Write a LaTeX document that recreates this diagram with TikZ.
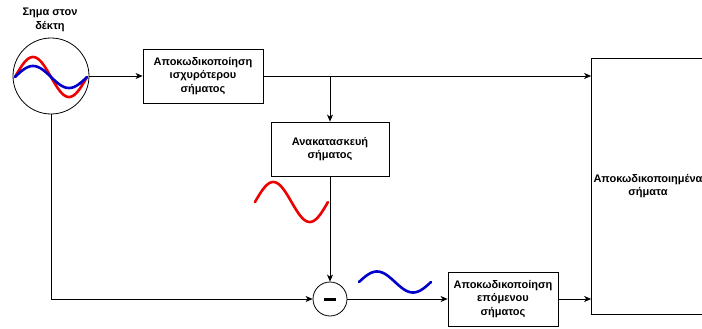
\documentclass[tikz,border=0pt]{standalone}
\usepackage{fontspec}
\setmainfont{Liberation Sans}
\usetikzlibrary{arrows.meta}
\definecolor{sigred}{HTML}{EE0000}
\definecolor{sigblue}{HTML}{0000CC}
\tikzset{
  block/.style={draw, line width=0.8pt, align=center, inner sep=2pt,
    font=\bfseries\fontsize{11}{13.5}\selectfont},
  ring/.style={draw, circle, line width=0.8pt, inner sep=0pt},
  link/.style={line width=0.8pt, -{Stealth[length=7pt,width=6pt,inset=2pt]}},
  wave/.style={line width=2.6pt, line cap=round},
  label/.style={align=center, font=\bfseries\fontsize{11}{13.5}\selectfont}
}
\begin{document}
\begin{tikzpicture}[x=1pt,y=-1pt]
\clip (0,0) rectangle (702,329);
\fill[white] (0,0) rectangle (702,329);

% received signal
\node[ring, minimum size=76pt] (src) at (51,76) {};
\node[label] (title) at (50,20) {Σημα στον\\δέκτη};
\draw[wave, sigred] plot[domain=0:1, samples=60, smooth]
  ({15+72*\x}, {77-20*sin(360*\x)});
\draw[wave, sigblue] plot[domain=0:1, samples=60, smooth]
  ({15+72*\x}, {77-11*sin(360*\x)});

% processing blocks
\node[block, minimum width=120pt, minimum height=54pt] (dec1) at (203,76)
  {Αποκωδικοποίηση\\ισχυρότερου\\σήματος};
\node[block, minimum width=118pt, minimum height=54pt] (rec) at (330,149)
  {Ανακατασκευή\\σήματος};
\node[ring, minimum size=34pt] (sub) at (330,299) {};
\draw[line width=3pt] ([xshift=-6pt]sub.center) -- ([xshift=6pt]sub.center);
\node[block, minimum width=110pt, minimum height=54pt] (dec2) at (503,299)
  {Αποκωδικοποίηση\\επόμενου\\σήματος};
\node[block, minimum width=112pt, minimum height=256pt] (out) at (648,186)
  {Αποκωδικοποιημένα\\σήματα};

% reconstructed and residual signals
\draw[wave, sigred] plot[domain=0:1, samples=60, smooth]
  ({255+73*\x}, {202-20*sin(360*\x)});
\draw[wave, sigblue] plot[domain=0:1, samples=60, smooth]
  ({359+72*\x}, {282-10.5*sin(360*\x)});

% connectors
\coordinate (br) at (dec1.east -| rec.north);
\draw[link] (src.east) -- (dec1.west);
\draw[link] (dec1.east) -- (dec1.east -| out.west);
\draw[link] (br) -- (rec.north);
\draw[link] (rec.south) -- (sub.north);
\draw[link] (src.south) -- (src.south |- sub.west) -- (sub.west);
\draw[link] (sub.east) -- (dec2.west);
\draw[link] (dec2.east) -- (dec2.east -| out.west);
\end{tikzpicture}
\end{document}
